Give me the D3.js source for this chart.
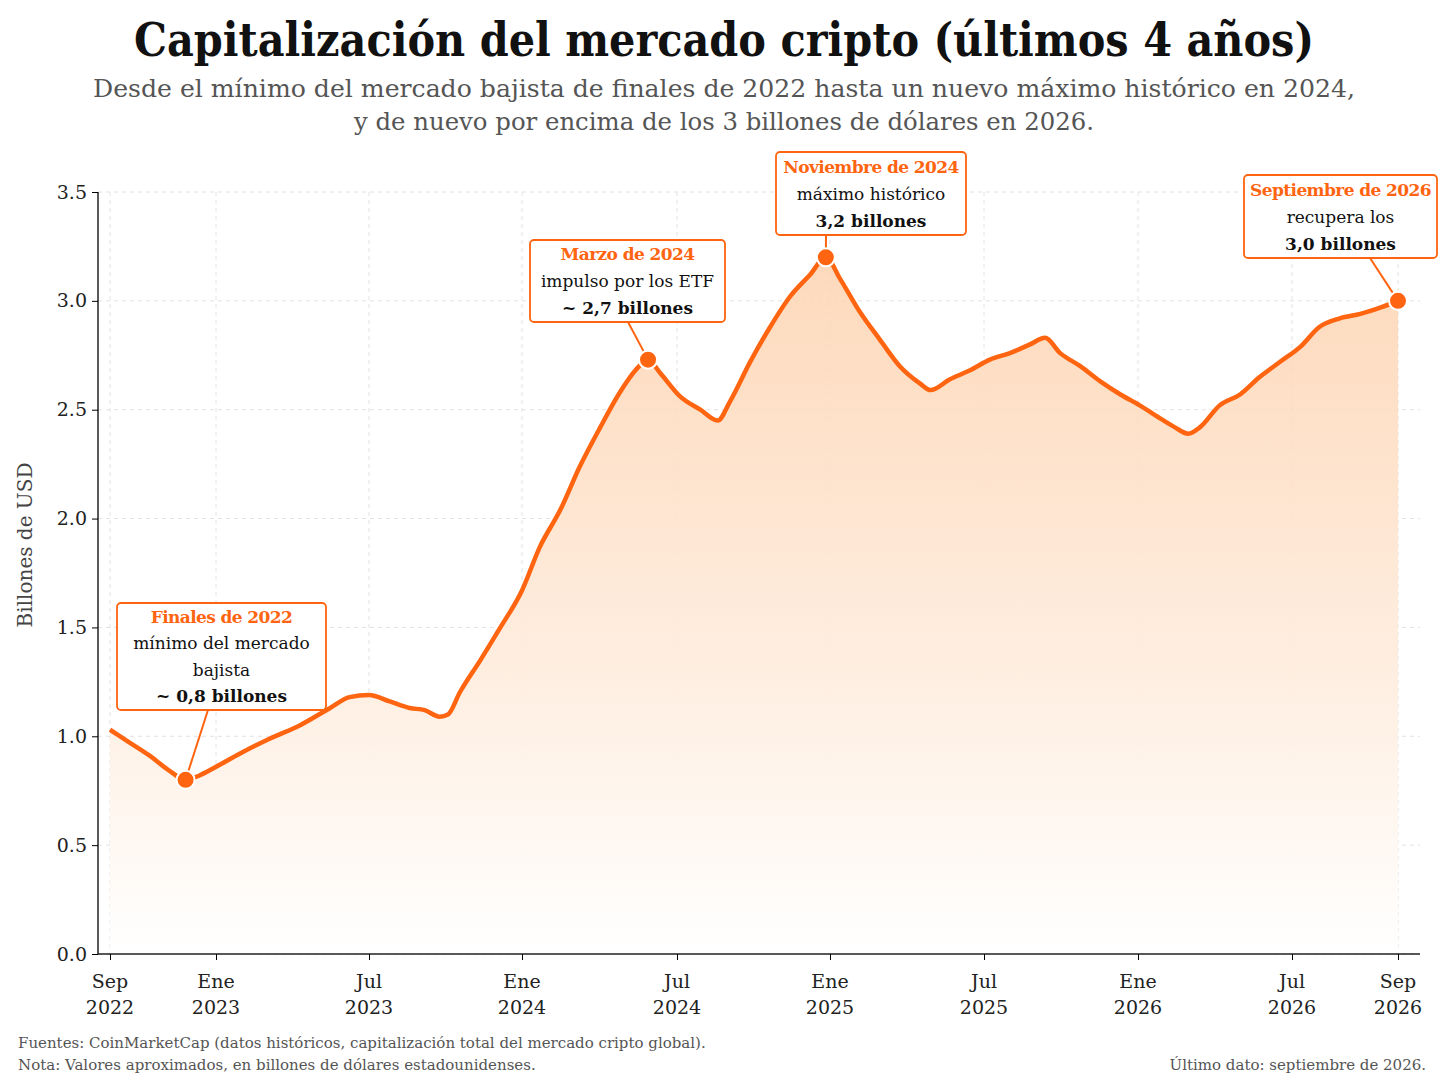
<!DOCTYPE html>
<html><head><meta charset="utf-8">
<script src="https://cdn.jsdelivr.net/npm/d3@7"></script>
<style>body{margin:0;background:#fff}svg{display:block}</style>
</head><body>
<svg id="c" width="1448" height="1086"></svg>
<script>
const dates = ["2022-09-01","2022-09-24","2022-10-17","2022-11-09","2022-11-27","2022-12-13","2023-01-01","2023-01-29","2023-03-06","2023-04-10","2023-05-16","2023-06-08","2023-07-01","2023-07-26","2023-08-19","2023-09-06","2023-09-24","2023-10-04","2023-10-18","2023-11-12","2023-12-06","2024-01-01","2024-01-22","2024-02-15","2024-03-09","2024-04-02","2024-04-25","2024-05-13","2024-05-28","2024-06-11","2024-07-05","2024-07-29","2024-08-19","2024-09-03","2024-09-27","2024-10-21","2024-11-14","2024-12-08","2024-12-27","2025-01-13","2025-02-05","2025-03-01","2025-03-24","2025-04-17","2025-04-29","2025-05-22","2025-06-14","2025-07-08","2025-08-01","2025-08-25","2025-09-12","2025-09-30","2025-10-24","2025-11-17","2025-12-11","2026-01-03","2026-01-27","2026-02-13","2026-03-01","2026-03-15","2026-04-07","2026-05-01","2026-05-24","2026-06-17","2026-07-06","2026-07-17","2026-07-29","2026-08-10","2026-08-22","2026-09-01"];
const values = [1.03,0.97,0.91,0.84,0.80,0.82,0.86,0.92,0.99,1.05,1.13,1.18,1.19,1.16,1.13,1.12,1.09,1.10,1.20,1.35,1.50,1.67,1.87,2.04,2.24,2.42,2.58,2.68,2.73,2.67,2.56,2.50,2.45,2.54,2.72,2.88,3.02,3.12,3.20,3.10,2.95,2.82,2.70,2.62,2.59,2.64,2.68,2.73,2.76,2.80,2.83,2.76,2.70,2.63,2.57,2.52,2.46,2.42,2.39,2.42,2.52,2.57,2.65,2.72,2.79,2.88,2.92,2.94,2.97,3.00];
const yTicks = [0,0.5,1.0,1.5,2.0,2.5,3.0,3.5];
const xTickDates = ["2022-09-01","2023-01-01","2023-07-01","2024-01-01","2024-07-01","2025-01-01","2025-07-01","2026-01-01","2026-07-01","2026-09-01"];
const xTickLabels = [["Sep","2022"],["Ene","2023"],["Jul","2023"],["Ene","2024"],["Jul","2024"],["Ene","2025"],["Jul","2025"],["Ene","2026"],["Jul","2026"],["Sep","2026"]];
const annotations = [
 {i:4, box:[117,603,209,107], anchor:[208,710], lines:[["Finales de 2022","h"],["mínimo del mercado","n"],["bajista","n"],["~ 0,8 billones","b"]]},
 {i:28, box:[530,240,195,82], anchor:[628,322], lines:[["Marzo de 2024","h"],["impulso por los ETF","n"],["~ 2,7 billones","b"]]},
 {i:38, box:[776,152,190,83], anchor:[826,235], lines:[["Noviembre de 2024","h"],["máximo histórico","n"],["3,2 billones","b"]]},
 {i:69, box:[1244,175,193,83], anchor:[1370,258], lines:[["Septiembre de 2026","h"],["recupera los","n"],["3,0 billones","b"]]}
];
const OR="#ff6410", F="'DejaVu Serif', 'Liberation Serif', serif";
const p=d3.timeParse("%Y-%m-%d");
const data=dates.map((d,i)=>({d:p(d),v:values[i]}));
const svg=d3.select("#c");
// piecewise time scale matching the reference axis spacing
const x=d3.scaleTime().domain(xTickDates.map(p)).range([110,216,369,522,677,830,984,1138,1292,1398]);
const y=d3.scaleLinear().domain([0,3.5]).range([954,192]);
const defs=svg.append("defs");
const g=defs.append("linearGradient").attr("id","ag").attr("x1",0).attr("x2",0).attr("y1",0).attr("y2",1);
g.append("stop").attr("offset","0%").attr("stop-color","#fdd3b0").attr("stop-opacity",0.85);
g.append("stop").attr("offset","100%").attr("stop-color","#fff").attr("stop-opacity",1);
yTicks.forEach(t=>svg.append("line").attr("x1",98).attr("x2",1420).attr("y1",y(t)).attr("y2",y(t)).attr("stroke","#e2e2e2").attr("stroke-dasharray","4,4"));
xTickDates.forEach(t=>svg.append("line").attr("x1",x(p(t))).attr("x2",x(p(t))).attr("y1",192).attr("y2",954).attr("stroke","#e2e2e2").attr("stroke-dasharray","4,4"));
svg.append("path").datum(data).attr("fill","url(#ag)").attr("d",d3.area().x(d=>x(d.d)).y0(954).y1(d=>y(d.v)).curve(d3.curveMonotoneX));
svg.append("path").datum(data).attr("fill","none").attr("stroke",OR).attr("stroke-width",4.5).attr("stroke-linejoin","round").attr("d",d3.line().x(d=>x(d.d)).y(d=>y(d.v)).curve(d3.curveMonotoneX));
const ya=svg.append("g").attr("transform","translate(98,0)").call(d3.axisLeft(y).tickValues(yTicks).tickFormat(d3.format(".1f")).tickSize(6));
ya.select(".domain").attr("d","M0,192V954").attr("stroke","#222").attr("stroke-width",1.5);
ya.selectAll("text").attr("font-family",F).attr("font-size",19).attr("fill","#222").attr("dx",-2);
const xa=svg.append("g").attr("transform","translate(0,954)").call(d3.axisBottom(x).tickValues(xTickDates.map(p)).tickFormat("").tickSize(6));
xa.select(".domain").attr("d","M98,0H1420").attr("stroke","#222").attr("stroke-width",1.5);
xTickDates.forEach((t,i)=>{const tx=svg.append("text").attr("x",x(p(t))).attr("y",988).attr("text-anchor","middle").attr("font-family",F).attr("font-size",19).attr("fill","#222");
 tx.append("tspan").attr("x",x(p(t))).text(xTickLabels[i][0]);tx.append("tspan").attr("x",x(p(t))).attr("dy",26).text(xTickLabels[i][1]);});
svg.append("text").attr("transform","translate(32,545) rotate(-90)").attr("text-anchor","middle").attr("font-family",F).attr("font-size",20).attr("fill","#444").text("Billones de USD");
svg.append("text").attr("x",724).attr("y",56).attr("text-anchor","middle").attr("font-family",F).attr("font-weight","bold").attr("font-size",46).attr("fill","#111").attr("textLength",1180).attr("lengthAdjust","spacingAndGlyphs").text("Capitalización del mercado cripto (últimos 4 años)");
svg.append("text").attr("x",724).attr("y",97).attr("text-anchor","middle").attr("font-family",F).attr("font-size",25).attr("fill","#555").attr("textLength",1262).attr("lengthAdjust","spacingAndGlyphs").text("Desde el mínimo del mercado bajista de finales de 2022 hasta un nuevo máximo histórico en 2024,");
svg.append("text").attr("x",724).attr("y",130).attr("text-anchor","middle").attr("font-family",F).attr("font-size",25).attr("fill","#555").attr("textLength",740).attr("lengthAdjust","spacingAndGlyphs").text("y de nuevo por encima de los 3 billones de dólares en 2026.");
annotations.forEach(a=>{const d=data[a.i];const [bx,by,bw,bh]=a.box;
 svg.append("line").attr("x1",a.anchor[0]).attr("y1",a.anchor[1]).attr("x2",x(d.d)).attr("y2",y(d.v)).attr("stroke",OR).attr("stroke-width",2);
 svg.append("rect").attr("x",bx).attr("y",by).attr("width",bw).attr("height",bh).attr("rx",4).attr("fill","#fff").attr("stroke",OR).attr("stroke-width",1.8);
 const lh=bh/(a.lines.length)*0.98, cx=bx+bw/2;
 a.lines.forEach((l,k)=>{svg.append("text").attr("x",cx).attr("y",by+lh*(k+0.5)+7).attr("text-anchor","middle").attr("font-family",F)
  .attr("font-size",l[1]=="h"?17:17).attr("font-weight",l[1]=="n"?"normal":"bold").attr("fill",l[1]=="h"?OR:"#111")
  .attr("letter-spacing",l[1]=="h"?-0.6:0).text(l[0]);});
 svg.append("circle").attr("cx",x(d.d)).attr("cy",y(d.v)).attr("r",9).attr("fill",OR).attr("stroke","#fff").attr("stroke-width",2);
});
const ft=(t,xx,yy,anc)=>svg.append("text").attr("x",xx).attr("y",yy).attr("text-anchor",anc).attr("font-family",F).attr("font-size",15).attr("fill","#555").text(t);
ft("Fuentes: CoinMarketCap (datos históricos, capitalización total del mercado cripto global).",18,1048,"start");
ft("Nota: Valores aproximados, en billones de dólares estadounidenses.",18,1070,"start");
ft("Último dato: septiembre de 2026.",1426,1070,"end");
</script></body></html>
